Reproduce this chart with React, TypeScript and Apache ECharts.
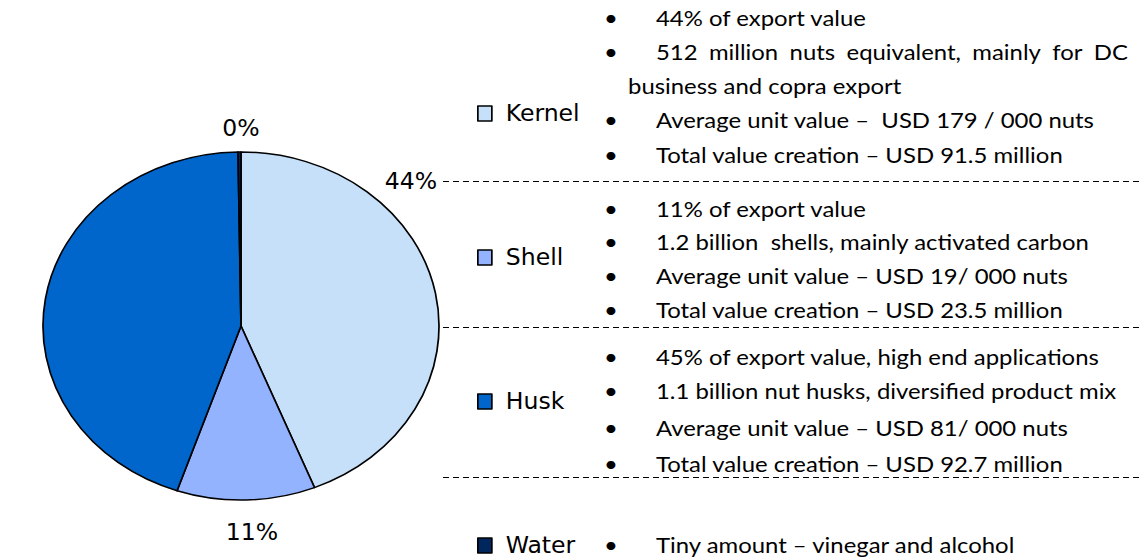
import React, { useEffect, useRef } from "react";
import * as echarts from "echarts";

// ---- data ----
const CATEGORIES = ["Kernel", "Shell", "Husk", "Water"];
const VALUES = [91.5, 23.5, 92.7, 0.5]; // total value creation, USD million
const COLORS = ["#C6E0F9", "#93B3FE", "#0066CC", "#00265E"];

const KERNEL_NOTES = [
  "44% of export value",
  "512 million nuts equivalent, mainly for DC",
  "business and copra export",
  "Average unit value –  USD 179 / 000 nuts",
  "Total value creation – USD 91.5 million",
];
const KERNEL_BULLETS = [true, true, false, true, true];
const SHELL_NOTES = [
  "11% of export value",
  "1.2 billion  shells, mainly activated carbon",
  "Average unit value – USD 19/ 000 nuts",
  "Total value creation – USD 23.5 million",
];
const HUSK_NOTES = [
  "45% of export value, high end applications",
  "1.1 billion nut husks, diversified product mix",
  "Average unit value – USD 81/ 000 nuts",
  "Total value creation – USD 92.7 million",
];
const WATER_NOTES = ["Tiny amount – vinegar and alcohol"];

// ---- layout (x given in page pixels, drawn in a horizontally stretched box) ----
const S = 1.138; // horizontal stretch of the slide picture
const W = 1147 / S;
const X = (x: number) => x / S;
const NOTE_FONT = "Lato";
const NOTE_SIZE = 21;
const LABEL_FONT = "'DejaVu Sans Condensed', 'DejaVu Sans', sans-serif";
const TEXT_X = 656;
const CONT_X = 628;
const BULLET_X = 611;
const JUSTIFY_RIGHT = 1128;
const KERNEL_Y = [18, 52, 86, 120, 155];
const SHELL_Y = [209, 242, 276, 310];
const HUSK_Y = [357, 391, 428, 464];
const WATER_Y = [545];
const DIVIDERS_Y = [181, 327, 477];
const LABEL_POS = [
  [411, 181],
  [252, 532],
  [39, 189],
  [241, 128],
];

function measure(text: string): number {
  const ctx = document.createElement("canvas").getContext("2d")!;
  ctx.font = `${NOTE_SIZE}px ${NOTE_FONT}`;
  return ctx.measureText(text).width;
}

function noteElements(notes: string[], ys: number[], bullets?: boolean[]) {
  const els: any[] = [];
  notes.forEach((line, i) => {
    const isBullet = bullets ? bullets[i] : true;
    const y = ys[i];
    if (isBullet) {
      els.push({
        type: "text",
        x: X(BULLET_X),
        y,
        style: {
          text: "•",
          fill: "#000",
          font: `${NOTE_SIZE}px ${NOTE_FONT}`,
          align: "center",
          verticalAlign: "middle",
        },
      });
    }
    els.push({
      type: "text",
      x: X(isBullet ? TEXT_X : CONT_X),
      y,
      style: {
        text: line,
        fill: "#000",
        font: `${NOTE_SIZE}px ${NOTE_FONT}`,
        align: "left",
        verticalAlign: "middle",
      },
    });
  });
  return els;
}

function justifiedElement(line: string, y: number) {
  const words = line.split(" ");
  const total = words.reduce((s, w) => s + measure(w), 0);
  const gap = Math.max(4, (X(JUSTIFY_RIGHT) - X(TEXT_X) - total) / (words.length - 1));
  return {
    type: "text",
    x: X(TEXT_X),
    y,
    style: {
      text: words.map((w) => `{w|${w}}`).join("{g| }"),
      fill: "#000",
      font: `${NOTE_SIZE}px ${NOTE_FONT}`,
      align: "left",
      verticalAlign: "middle",
      rich: {
        w: { fontFamily: NOTE_FONT, fontSize: NOTE_SIZE, fill: "#000" },
        g: { fontFamily: NOTE_FONT, fontSize: NOTE_SIZE, width: gap },
      },
    },
  };
}

export default function App() {
  const ref = useRef<HTMLDivElement>(null);
  useEffect(() => {
    if (!ref.current) return;
    const chart = echarts.init(ref.current, null, { renderer: "svg" });

    const kernelEls = noteElements(KERNEL_NOTES, KERNEL_Y, KERNEL_BULLETS);
    const idx = kernelEls.findIndex((e) => e.style.text === KERNEL_NOTES[1]);
    kernelEls[idx] = justifiedElement(KERNEL_NOTES[1], KERNEL_Y[1]);

    const graphics: any[] = [
      ...kernelEls,
      ...noteElements(SHELL_NOTES, SHELL_Y),
      ...noteElements(HUSK_NOTES, HUSK_Y),
      ...noteElements(WATER_NOTES, WATER_Y),
      ...DIVIDERS_Y.map((y) => ({
        type: "line",
        shape: { x1: X(443), y1: y + 0.5, x2: X(1140), y2: y + 0.5 },
        style: { stroke: "#000", lineWidth: 1, lineDash: [6 / S, 4 / S] },
      })),
    ];

    chart.setOption({
      animation: false,
      color: COLORS,
      legend: {
        orient: "vertical",
        left: X(477),
        top: 102,
        height: 480,
        padding: 0,
        itemWidth: 14 / S,
        itemHeight: 15,
        itemGap: 121,
        icon: "rect",
        itemStyle: { borderColor: "#000", borderWidth: 1.5 },
        textStyle: {
          fontFamily: LABEL_FONT,
          fontSize: 23,
          color: "#000",
          padding: [0, 0, 0, (505 - 477) / S - 14 / S - 5],
        },
        data: CATEGORIES,
        selectedMode: false,
      },
      series: [
        {
          type: "pie",
          center: [X(241), 326],
          radius: 174,
          startAngle: 90,
          clockwise: true,
          percentPrecision: 0,
          itemStyle: { borderColor: "#000", borderWidth: 1.5 },
          label: {
            show: true,
            position: "outside",
            formatter: "{d}%",
            fontFamily: LABEL_FONT,
            fontSize: 23,
            color: "#000",
          },
          labelLine: { show: false },
          labelLayout: (p: any) => ({
            x: X(LABEL_POS[p.dataIndex][0]),
            y: LABEL_POS[p.dataIndex][1],
            align: "center",
            verticalAlign: "middle",
          }),
          emphasis: { disabled: true },
          data: CATEGORIES.map((name, i) => ({ name, value: VALUES[i] })),
        },
      ],
      graphic: graphics,
    });

    return () => chart.dispose();
  }, []);

  return (
    <div
      ref={ref}
      style={{
        position: "absolute",
        left: 0,
        top: 0,
        width: W,
        height: 560,
        background: "#fff",
        transform: `scaleX(${S})`,
        transformOrigin: "0 0",
      }}
    />
  );
}
